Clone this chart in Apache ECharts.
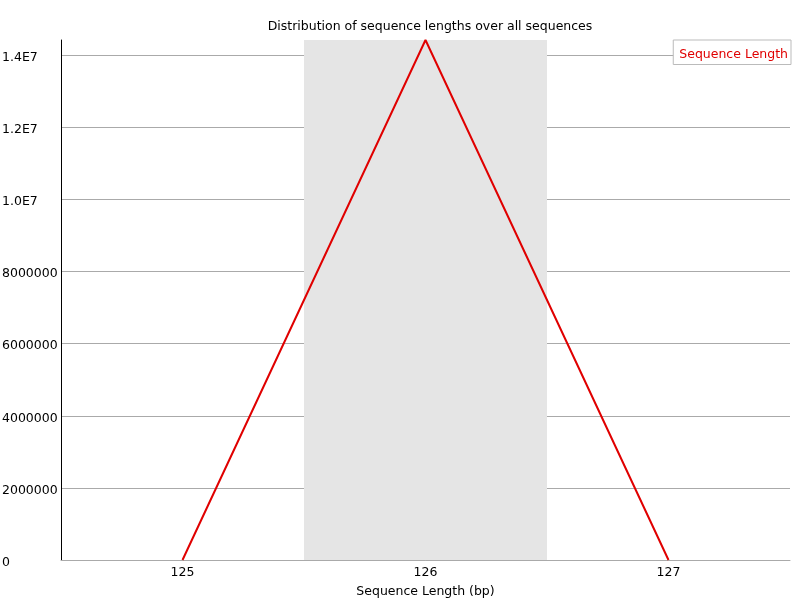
<!DOCTYPE html>
<html>
<head>
<meta charset="utf-8">
<script src="https://cdn.jsdelivr.net/npm/echarts@6/dist/echarts.min.js"></script>
<style>html,body{margin:0;padding:0;background:#fff}#c{width:800px;height:600px}</style>
</head>
<body>
<div id="c"></div>
<script>
const categories = ['125', '126', '127'];
const seqLengthCounts = [0, 14420000, 0];
const seriesName = 'Sequence Length';
const titleText = 'Distribution of sequence lengths over all sequences';
const xAxisName = 'Sequence Length (bp)';

const chart = echarts.init(document.getElementById('c'));
const font = 'DejaVu Sans';
const fs = 12.5;
chart.setOption({
  animation: false,
  backgroundColor: '#fff',
  title: {
    text: titleText, left: 425, top: 15, textAlign: 'center',
    textStyle: { fontFamily: font, fontSize: fs, fontWeight: 'normal', color: '#000' }
  },
  legend: {
    data: [seriesName], right: 9, top: 40, icon: 'none', itemWidth: 0, itemGap: 0,
    padding: [8, 3, 3, 1], borderColor: '#bbb', borderWidth: 1, backgroundColor: '#fff',
    textStyle: { fontFamily: font, fontSize: fs, color: '#e00000' }
  },
  grid: { left: 61, right: 10, top: 40, bottom: 40, outerBoundsMode: 'none', containLabel: false },
  xAxis: {
    type: 'category', data: categories, boundaryGap: true,
    name: xAxisName, nameLocation: 'middle', nameGap: 25,
    nameTextStyle: { fontFamily: font, fontSize: fs, color: '#000' },
    axisLine: { lineStyle: { color: '#aaa', width: 1 } },
    axisTick: { show: false },
    axisLabel: { fontFamily: font, fontSize: fs, color: '#000', margin: 6 },
    splitArea: { show: true, areaStyle: { color: ['rgba(0,0,0,0)', '#e5e5e5'] } },
    splitLine: { show: false }
  },
  yAxis: {
    type: 'value', min: 0, max: Math.max(...seqLengthCounts), interval: 2000000,
    axisLine: { show: true, lineStyle: { color: '#000', width: 1 } },
    axisTick: { show: false },
    axisLabel: {
      fontFamily: font, fontSize: fs, color: '#000', align: 'left', margin: 59,
      showMaxLabel: false, verticalAlign: 'top', padding: [-4, 0, 0, 0],
      formatter: v => v >= 1e7 ? (v / 1e7).toFixed(1) + 'E7' : String(v)
    },
    splitLine: { show: true, showMaxLine: false, lineStyle: { color: '#aaa', width: 1 } }
  },
  series: [{
    name: seriesName, type: 'line', data: seqLengthCounts, symbol: 'none',
    lineStyle: { color: '#e00000', width: 2 }, itemStyle: { color: '#e00000' },
    z: 5
  }]
});
</script>
</body>
</html>
